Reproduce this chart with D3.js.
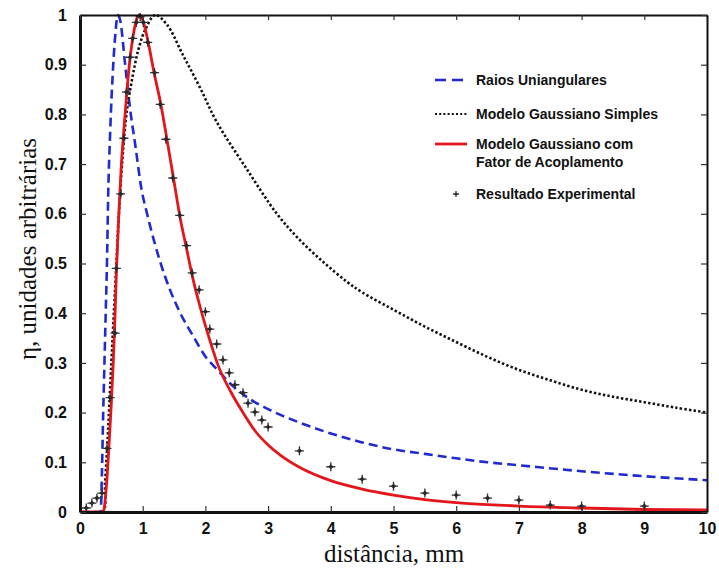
<!DOCTYPE html>
<html>
<head>
<meta charset="utf-8">
<script src="https://cdn.jsdelivr.net/npm/d3@7/dist/d3.min.js"></script>
<style>
  html, body { margin: 0; padding: 0; background: #fff; }
  svg { display: block; }
  .tick text { font-family: "Liberation Sans", Arial, sans-serif; font-weight: bold; font-size: 16px; fill: #111; }
  .legend text { font-family: "Liberation Sans", Arial, sans-serif; font-weight: bold; font-size: 14px; fill: #111; }
  .title { font-family: "Liberation Serif", "Times New Roman", serif; font-size: 25px; fill: #111; }
</style>
</head>
<body>
<svg id="chart" width="719" height="568"></svg>
<script>
// Raios Uniangulares (blue dashed)
const raiosX = [0, 0.33, 0.35, 0.37, 0.39, 0.41, 0.43, 0.45, 0.48, 0.53, 0.57, 0.6, 0.64, 0.72, 0.8, 0.88, 0.98, 1.07, 1.3, 1.6, 1.8, 2.0, 2.2, 2.4, 2.7, 3.0, 3.5, 4.0, 4.5, 5.0, 5.5, 6.0, 6.5, 7.0, 8.0, 9.0, 10.0];
const raiosY = [0, 0, 0.08, 0.2, 0.3, 0.4, 0.5, 0.64, 0.76, 0.9, 0.97, 1.0, 0.99, 0.9, 0.81, 0.74, 0.65, 0.6, 0.495, 0.4, 0.355, 0.313, 0.285, 0.258, 0.228, 0.207, 0.18, 0.158, 0.14, 0.126, 0.117, 0.108, 0.1, 0.094, 0.082, 0.072, 0.064];

// Modelo Gaussiano Simples (black dotted)
const simplesX = [0, 0.36, 0.4, 0.45, 0.5, 0.54, 0.58, 0.62, 0.67, 0.75, 0.83, 0.93, 1.04, 1.2, 1.39, 1.64, 1.91, 2.18, 2.66, 3.14, 3.5, 3.88, 4.26, 4.5, 5.0, 5.5, 6.0, 6.5, 7.0, 7.5, 8.0, 8.5, 9.0, 9.5, 10.0];
const simplesY = [0, 0, 0.06, 0.17, 0.3, 0.4, 0.5, 0.6, 0.7, 0.81, 0.87, 0.93, 0.97, 1.0, 0.98, 0.92, 0.855, 0.785, 0.69, 0.6, 0.548, 0.503, 0.463, 0.442, 0.407, 0.373, 0.342, 0.312, 0.286, 0.265, 0.246, 0.232, 0.221, 0.21, 0.2];

// Modelo Gaussiano com Fator de Acoplamento (red solid)
const acoplX = [0, 0.37, 0.42, 0.47, 0.5, 0.53, 0.56, 0.58, 0.62, 0.66, 0.7, 0.75, 0.8, 0.85, 0.9, 0.95, 1.0, 1.08, 1.18, 1.29, 1.4, 1.5, 1.6, 1.7, 1.8, 1.9, 2.0, 2.1, 2.2, 2.4, 2.6, 2.8, 3.0, 3.2, 3.5, 4.0, 4.5, 5.0, 5.5, 6.0, 6.5, 7.0, 8.0, 9.0, 10.0];
const acoplY = [0, 0, 0.05, 0.15, 0.22, 0.3, 0.4, 0.48, 0.6, 0.7, 0.77, 0.85, 0.915, 0.96, 0.99, 1.0, 0.99, 0.95, 0.885, 0.82, 0.74, 0.665, 0.59, 0.53, 0.47, 0.42, 0.375, 0.334, 0.296, 0.243, 0.2, 0.162, 0.135, 0.114, 0.09, 0.063, 0.046, 0.034, 0.025, 0.019, 0.015, 0.012, 0.008, 0.005, 0.004];

// Resultado Experimental (markers)
const expX = [0.1, 0.19, 0.27, 0.35, 0.43, 0.48, 0.56, 0.58, 0.65, 0.7, 0.74, 0.8, 0.84, 0.9, 0.96, 1.01, 1.08, 1.19, 1.28, 1.37, 1.48, 1.59, 1.7, 1.79, 1.9, 2.0, 2.07, 2.18, 2.28, 2.38, 2.47, 2.6, 2.68, 2.79, 2.9, 3.0, 3.5, 4.0, 4.5, 5.0, 5.5, 6.0, 6.5, 7.0, 7.5, 8.0, 9.0];
const expY = [0.008, 0.018, 0.028, 0.038, 0.128, 0.23, 0.36, 0.49, 0.64, 0.752, 0.845, 0.915, 0.953, 0.985, 0.997, 0.985, 0.945, 0.884, 0.82, 0.75, 0.672, 0.597, 0.536, 0.481, 0.447, 0.403, 0.368, 0.338, 0.306, 0.28, 0.256, 0.24, 0.219, 0.201, 0.185, 0.171, 0.123, 0.091, 0.066, 0.052, 0.038, 0.034, 0.028, 0.024, 0.014, 0.012, 0.012];

// Axis ticks
const xTicks = [0, 1, 2, 3, 4, 5, 6, 7, 8, 9, 10];
const xTickLabels = ["0", "1", "2", "3", "4", "5", "6", "7", "8", "9", "10"];
const yTicks = [0, 0.1, 0.2, 0.3, 0.4, 0.5, 0.6, 0.7, 0.8, 0.9, 1];
const yTickLabels = ["0", "0.1", "0.2", "0.3", "0.4", "0.5", "0.6", "0.7", "0.8", "0.9", "1"];

const legendLabels = [["Raios Uniangulares"], ["Modelo Gaussiano Simples"], ["Modelo Gaussiano com", "Fator de Acoplamento"], ["Resultado Experimental"]];

const svg = d3.select("#chart");
const mLeft = 80, mRight = 707, mTop = 15, mBottom = 512;

const x = d3.scaleLinear().domain([0, 10]).range([mLeft, mRight]);
const y = d3.scaleLinear().domain([0, 1]).range([mBottom, mTop]);

svg.append("rect").attr("width", 719).attr("height", 568).attr("fill", "#fff");

svg.append("defs").append("clipPath").attr("id", "plot")
  .append("rect").attr("x", mLeft).attr("y", mTop - 2).attr("width", mRight - mLeft).attr("height", mBottom - mTop + 2);

const zip = (xs, ys) => xs.map((v, i) => [v, ys[i]]);
const line = d3.line().x(d => x(d[0])).y(d => y(d[1])).curve(d3.curveMonotoneX);
const smoothLine = d3.line().x(d => x(d[0])).y(d => y(d[1])).curve(d3.curveCatmullRom.alpha(0.5));

const plot = svg.append("g").attr("clip-path", "url(#plot)");

plot.append("path").datum(zip(raiosX, raiosY))
  .attr("d", line).attr("fill", "none")
  .attr("stroke", "#1f2bd0").attr("stroke-width", 2.6)
  .attr("stroke-dasharray", "9,5");

plot.append("path").datum(zip(simplesX, simplesY))
  .attr("d", smoothLine).attr("fill", "none")
  .attr("stroke", "#111").attr("stroke-width", 2.6)
  .attr("stroke-dasharray", "2.4,2.2");

plot.append("path").datum(zip(acoplX, acoplY))
  .attr("d", line).attr("fill", "none")
  .attr("stroke", "#e3161b").attr("stroke-width", 2.8);

// experimental markers: plus sign with a dark centre
function marker(g, size, dot) {
  g.append("path")
    .attr("d", `M${-size},0H${size}M0,${-size}V${size}`)
    .attr("stroke", "#333").attr("stroke-width", 1.3);
  g.append("path")
    .attr("d", `M0,${-dot}L${dot},0L0,${dot}L${-dot},0Z`)
    .attr("fill", "#2a2a2a");
}
zip(expX, expY).forEach(d => {
  const g = plot.append("g").attr("transform", `translate(${x(d[0])},${y(d[1])})`);
  marker(g, 4.5, 2.6);
});

// axes
const gx = svg.append("g").attr("transform", `translate(0,${mBottom})`)
  .call(d3.axisBottom(x).tickValues(xTicks).tickFormat((d, i) => xTickLabels[i])
    .tickSize(-6).tickSizeOuter(0).tickPadding(11));
const gy = svg.append("g").attr("transform", `translate(${mLeft},0)`)
  .call(d3.axisLeft(y).tickValues(yTicks).tickFormat((d, i) => yTickLabels[i])
    .tickSize(-6).tickSizeOuter(0).tickPadding(13));
const gt = svg.append("g").attr("transform", `translate(0,${mTop})`)
  .call(d3.axisTop(x).tickValues(xTicks).tickFormat("").tickSize(-5).tickSizeOuter(0));
const gr = svg.append("g").attr("transform", `translate(${mRight},0)`)
  .call(d3.axisRight(y).tickValues(yTicks).tickFormat("").tickSize(-6).tickSizeOuter(0));

[gx, gy].forEach(g => g.select(".domain").attr("stroke", "#111").attr("stroke-width", 3));
[gt, gr].forEach(g => g.select(".domain").attr("stroke", "#111").attr("stroke-width", 2));
[gx, gy, gt, gr].forEach(g => g.selectAll(".tick line").attr("stroke", "#333").attr("stroke-width", 1.2));
gx.selectAll(".tick text").attr("dy", "0.71em");

// axis titles
svg.append("text").attr("class", "title")
  .attr("x", 394).attr("y", 562).attr("text-anchor", "middle")
  .text("distância, mm");
svg.append("text").attr("class", "title")
  .attr("transform", "translate(36,249) rotate(-90)")
  .attr("text-anchor", "middle")
  .text("η, unidades arbitrárias");

// legend
const lg = svg.append("g").attr("class", "legend");
const rowsY = [80, 114, 144, 194];
lg.append("line").attr("x1", 435).attr("x2", 467).attr("y1", rowsY[0]).attr("y2", rowsY[0])
  .attr("stroke", "#1f2bd0").attr("stroke-width", 2.6).attr("stroke-dasharray", "11,6");
lg.append("line").attr("x1", 435).attr("x2", 467).attr("y1", rowsY[1]).attr("y2", rowsY[1])
  .attr("stroke", "#111").attr("stroke-width", 2).attr("stroke-dasharray", "2,2.2");
lg.append("line").attr("x1", 435).attr("x2", 467).attr("y1", rowsY[2]).attr("y2", rowsY[2])
  .attr("stroke", "#e3161b").attr("stroke-width", 2.8);
marker(lg.append("g").attr("transform", `translate(456,${rowsY[3]})`), 3, 1.6);

legendLabels.forEach((lines, i) => {
  lines.forEach((t, j) => {
    lg.append("text").attr("x", 476).attr("y", rowsY[i] + j * 18).attr("dy", "0.35em").text(t);
  });
});
</script>
</body>
</html>
